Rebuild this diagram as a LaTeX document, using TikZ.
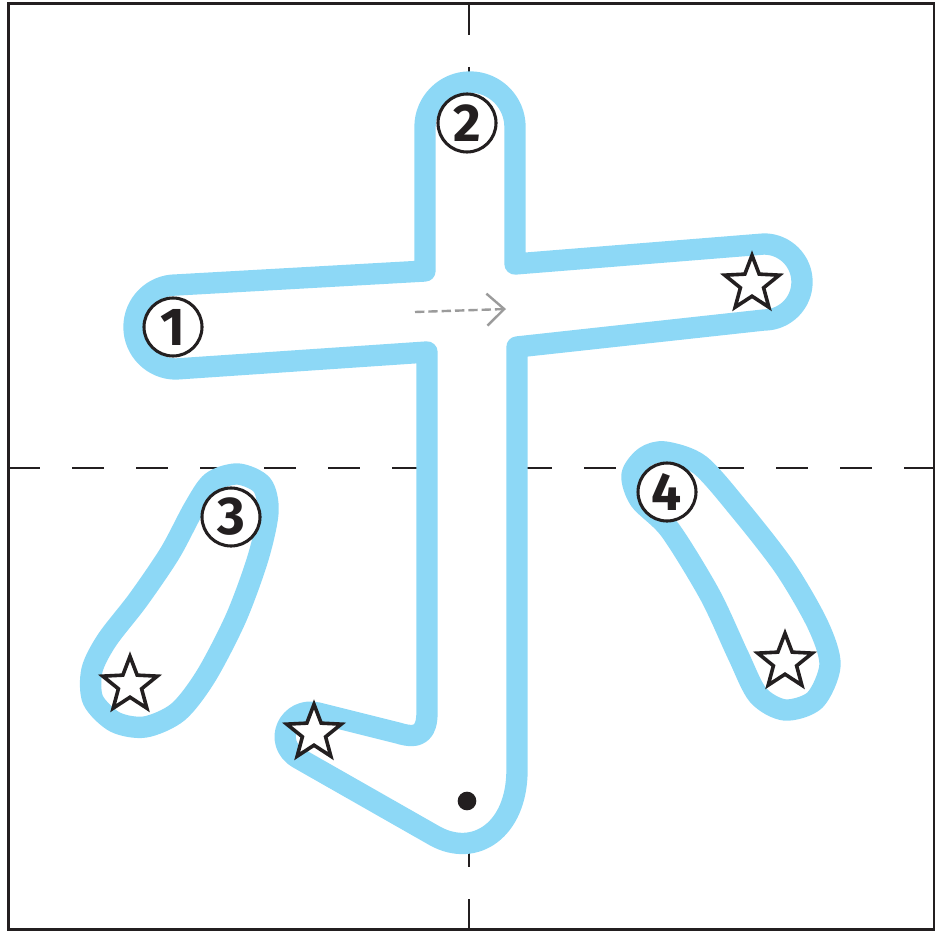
\documentclass[tikz,border=0pt]{standalone}
\usepackage{fontspec}
\setsansfont{Fira Sans}
\usetikzlibrary{arrows.meta,positioning,shapes.geometric}
\definecolor{inkblack}{RGB}{35,31,32}
\definecolor{traceblue}{RGB}{141,216,246}
\definecolor{hintgray}{RGB}{155,155,155}

\begin{document}
\begin{tikzpicture}[x=0.75pt,y=-0.75pt,>=Latex, every node/.style={font=\sffamily\bfseries\fontsize{40}{40}\selectfont}]
\tikzstyle{outline}=[draw=traceblue,line width=16pt,fill=white,line join=round]
\tikzstyle{numcircle}=[circle,draw=inkblack,line width=2.3pt,fill=white,minimum size=43.5pt,inner sep=0pt,text=inkblack]
\tikzstyle{endstar}=[star,star points=5,star point ratio=2.35,draw=inkblack,line width=2.7pt,fill=white,minimum size=43pt,inner sep=0pt]
\tikzstyle{guide}=[inkblack,line width=1.5pt,dash pattern=on 24pt off 24pt]
\useasboundingbox (0,0) rectangle (941,934);
% practice square
\draw[guide] (469,3) -- (469,930);
\draw[guide] (8,468) -- (934,468);
\draw[inkblack,line width=2pt] (8.5,3.2) rectangle (934,929.7);
% strokes 1+2
\draw[outline] (425,271) -- (425,127) arc[start angle=180,end angle=360,radius=45] -- (515,264) -- (764,244)
  arc[start angle=-90,end angle=90,radius=38] -- (517,347) -- (517,770)
  .. controls (517,830) and (475,858) .. (435,836) -- (298,758)
  .. controls (272,742) and (289,706) .. (318,713) -- (398,733)
  .. controls (420,740) and (427,732) .. (427,712) -- (427,352) -- (176,369)
  arc[start angle=90,end angle=270,radius=42] -- cycle;
% stroke 3
\draw[outline] plot[smooth cycle] coordinates {(238,474) (262,485) (268,512) (258,558) (236,618) (206,676) (178,712) (145,727) (115,722) (93,700) (92,670) (107,640) (138,600) (170,553) (194,508) (212,482)};
% stroke 4
\draw[outline] plot[smooth cycle] coordinates {(665,452) (700,465) (740,510) (785,568) (818,625) (830,665) (815,700) (785,710) (758,695) (738,655) (710,595) (670,530) (640,500) (632,475) (645,457)};
% direction hint
\coordinate (hintstart) at (415,312);
\coordinate (hintend) at (506,309);
\draw[hintgray,line width=1.8pt,dash pattern=on 7pt off 3pt,-{Straight Barb[length=13pt,width=24pt]}] (hintstart) -- (hintend);
% numbers
\node[numcircle] (num1) at (173,327) {1};
\node[numcircle] (num2) at (467,123) {2};
\node[numcircle] (num3) at (231,517) {3};
\node[numcircle] (num4) at (667,492) {4};
% stroke ends
\node[endstar] (star1) at (752,284) {};
\node[endstar] (star2) at (314,733) {};
\node[endstar] (star3) at (130,685) {};
\node[endstar] (star4) at (785,662) {};
\node[circle,fill=inkblack,minimum size=14pt,inner sep=0pt] (startdot) at (467,801) {};
\end{tikzpicture}
\end{document}
